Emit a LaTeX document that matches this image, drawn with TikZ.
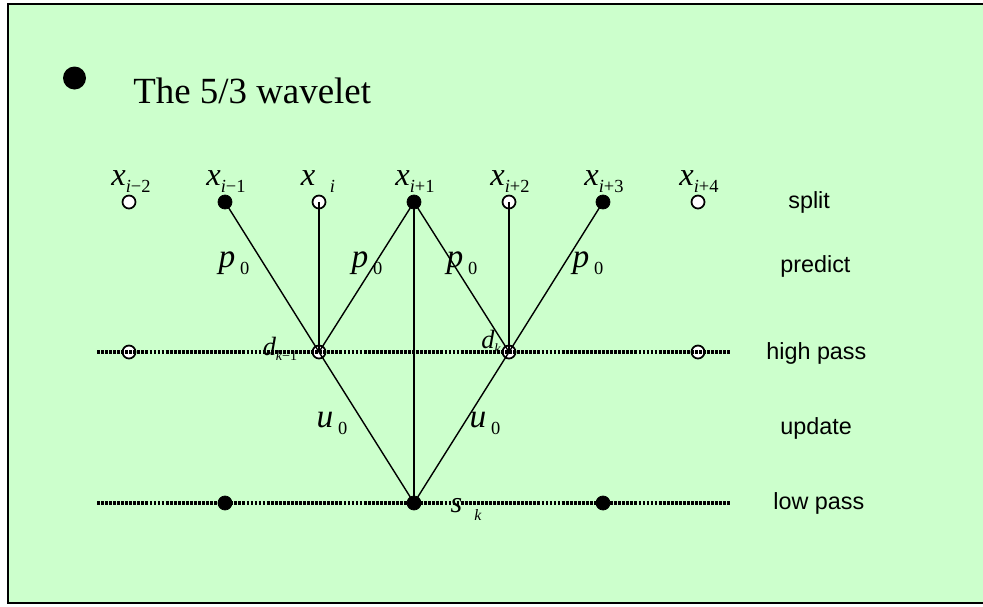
\documentclass[tikz,border=0pt]{standalone}
\usepackage{fontspec}
\setmainfont{Liberation Serif}
\newfontfamily\arialfont{Liberation Sans}
\definecolor{panel}{HTML}{CCFFCC}
\newcommand{\xs}[1]{x\raisebox{-4.5pt}{\fontsize{10.5}{10.5}\selectfont #1}}
\newcommand{\ps}[1]{#1\hspace{0.15em}\raisebox{-4pt}{\fontsize{10.5}{10.5}\selectfont\upshape 0}}

\begin{document}
\begin{tikzpicture}[x=0.02cm,y=-0.02cm,
  opn/.style={circle,draw,fill=white,line width=1pt,inner sep=0pt,minimum size=7.4pt},
  fld/.style={circle,draw,fill=black,inner sep=0pt,minimum size=8pt},
  edge/.style={line width=0.8pt},
  band/.style={line width=1.9pt,dash pattern=on 1.6pt off 0.7pt},
  lbl/.style={anchor=west,inner sep=0pt,font=\arialfont\fontsize{13.3}{15}\selectfont},
  sym/.style={anchor=base,inner sep=0pt,font=\fontsize{18.5}{20}\selectfont\itshape}]
\useasboundingbox (0,0) rectangle (983,606);
\fill[panel] (8,4) rectangle (983,603);
\draw[line width=1.1pt] (983,4) -- (8,4) -- (8,603) -- (983,603);
% title
\fill (74.5,78) circle (11.5);
\node[anchor=base west,inner sep=0pt,font=\fontsize{21}{24}\selectfont] (title) at (133,103) {The 5/3 wavelet};
% split row
\foreach \n/\px in {1/129,3/319,5/509,7/698}
  \node[opn] (t\n) at (\px,202) {};
\foreach \n/\px in {2/225,4/414,6/603}
  \node[fld] (t\n) at (\px,202) {};
% high pass and low pass rows
\foreach \n/\px in {1/129,3/319,5/509,7/698}
  \node[opn] (h\n) at (\px,352) {};
\foreach \n/\px in {2/225,4/414,6/603}
  \node[fld] (l\n) at (\px,503) {};
\coordinate (hl) at (97,352);
\coordinate (hr) at (731,352);
\coordinate (ll) at (97,503);
\coordinate (lr) at (731,503);
\draw[band] (hl) -- (hr);
\draw[band] (ll) -- (lr);
% lifting steps
\draw[edge] (t2.center) -- (h3.center);
\draw[edge] (t3.center) -- (h3.center);
\draw[edge] (t4.center) -- (h3.center);
\draw[edge] (t4.center) -- (h5.center);
\draw[edge] (t5.center) -- (h5.center);
\draw[edge] (t6.center) -- (h5.center);
\draw[edge] (t4.center) -- (l4.center);
\draw[edge] (h3.center) -- (l4.center);
\draw[edge] (h5.center) -- (l4.center);
% sample names
\node[sym] (x1) at (131,185) {\xs{\itshape i\upshape −2}};
\node[sym] (x2) at (226,185) {\xs{\itshape i\upshape −1}};
\node[sym] (x3) at (318,185) {x\hspace{0.45em}\raisebox{-4.5pt}{\fontsize{10.5}{10.5}\selectfont i}};
\node[sym] (x4) at (415,185) {\xs{\itshape i\upshape +1}};
\node[sym] (x5) at (510,185) {\xs{\itshape i\upshape +2}};
\node[sym] (x6) at (604,185) {\xs{\itshape i\upshape +3}};
\node[sym] (x7) at (699,185) {\xs{\itshape i\upshape +4}};
\node[sym,font=\fontsize{19}{21}\selectfont\itshape] (p1) at (234,267) {\ps{p}};
\node[sym,font=\fontsize{19}{21}\selectfont\itshape] (p2) at (367,267) {\ps{p}};
\node[sym,font=\fontsize{19}{21}\selectfont\itshape] (p3) at (462,267) {\ps{p}};
\node[sym,font=\fontsize{19}{21}\selectfont\itshape] (p4) at (588,267) {\ps{p}};
\node[sym,font=\fontsize{19}{21}\selectfont\itshape] (u1) at (332,427) {\ps{u}};
\node[sym,font=\fontsize{19}{21}\selectfont\itshape] (u2) at (485,427) {\ps{u}};
\node[sym,font=\fontsize{15}{16}\selectfont\itshape] (d1) at (280,355) {d\raisebox{-3pt}{\fontsize{8}{8}\selectfont k\upshape −1}};
\node[sym,font=\fontsize{15}{16}\selectfont\itshape] (d2) at (491,348) {d\raisebox{-3pt}{\fontsize{8}{8}\selectfont k}};
\node[sym,font=\fontsize{17}{19}\selectfont\itshape] (s1) at (466,512) {s\hspace{0.4em}\raisebox{-5pt}{\fontsize{9}{9}\selectfont k}};
% row names
\node[lbl] (split) at (788,202) {split};
\node[lbl] (predict) at (780,266) {predict};
\node[lbl] (high) at (766,353) {high pass};
\node[lbl] (update) at (780,428) {update};
\node[lbl] (low) at (773,503) {low pass};
\end{tikzpicture}
\end{document}
